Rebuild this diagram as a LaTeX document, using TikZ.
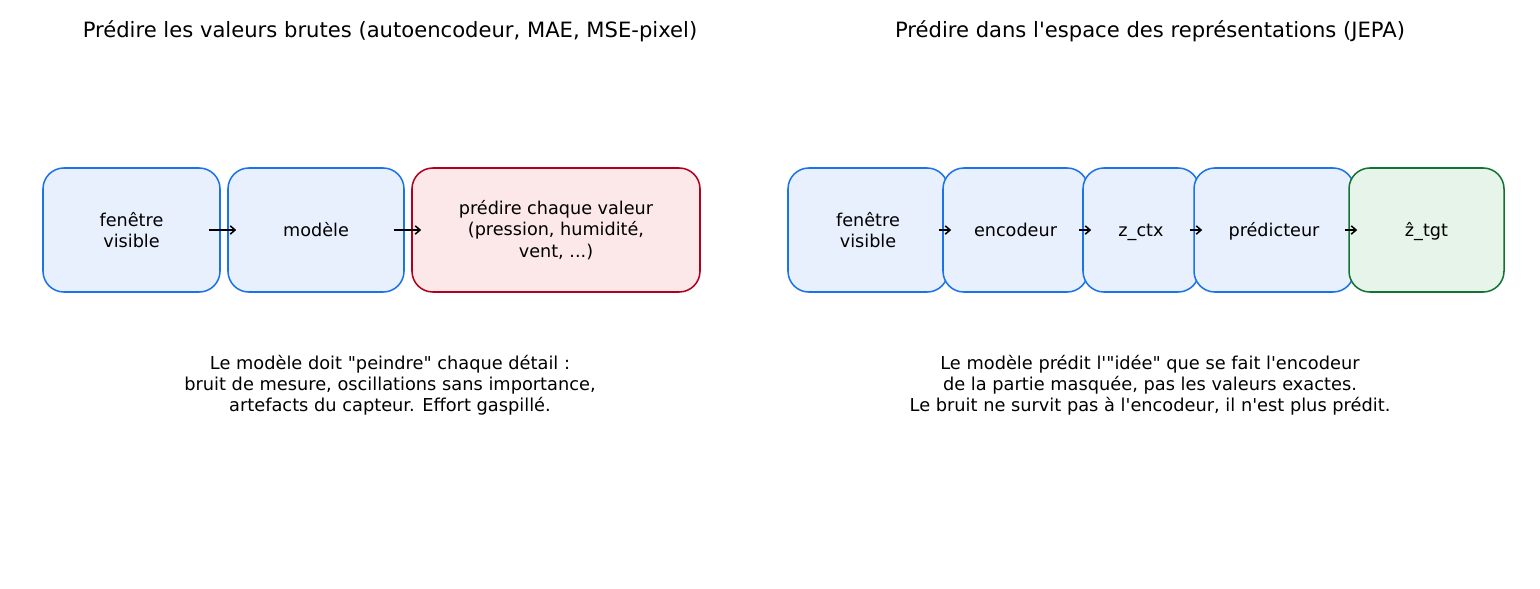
\documentclass[tikz,border=0pt]{standalone}
\usepackage{fontspec}
\setmainfont{DejaVu Sans}
\usepackage{tikz}
\usetikzlibrary{arrows.meta, calc, positioning}
\tikzset{>={Straight Barb[length=3.5pt, width=6pt]}}
\definecolor{boxblue}{HTML}{1A73E8}
\definecolor{fillblue}{HTML}{E8F0FE}
\definecolor{boxred}{HTML}{B00020}
\definecolor{fillred}{HTML}{FCE8E8}
\definecolor{boxgreen}{HTML}{137333}
\definecolor{fillgreen}{HTML}{E6F4EA}
\newdimen\pxu \pxu=0.72pt
\newcommand{\apos}{\textquotesingle}
\newcommand{\dq}{\textquotedbl}

\begin{document}
\begin{tikzpicture}[
  x=0.72pt, y=-0.72pt,
  blok/.style={rectangle, rounded corners=15pt, line width=1.1pt, minimum height=124\pxu, inner sep=0pt, align=center, font=\fontsize{12.7}{15.3}\selectfont},
  bleu/.style={blok, draw=boxblue, fill=fillblue},
  rouge/.style={blok, draw=boxred, fill=fillred},
  vert/.style={blok, draw=boxgreen, fill=fillgreen},
  ligne/.style={text height=11pt, text depth=2pt},
  fleche/.style={->, line width=1.1pt, black},
  titre/.style={font=\fontsize{15.2}{18}\selectfont},
  note/.style={align=center, font=\fontsize{12.8}{15.3}\selectfont}
]
\useasboundingbox (0,0) rectangle (1540,588);

% Titles of the two panels
\node[titre] (tg) at (390,31) {Prédire les valeurs brutes (autoencodeur, MAE, MSE-pixel)};
\node[titre] (td) at (1150,31) {Prédire dans l\apos espace des représentations (JEPA)};

% Left panel: raw value prediction
\node[bleu, minimum width=177\pxu] (fg) at (131.5,230) {fenêtre\\visible};
\node[bleu, ligne, minimum width=176\pxu] (mod) at (316,230) {modèle};
\node[rouge, minimum width=288\pxu] (pred) at (556,230) {prédire chaque valeur\\(pression, humidité,\\vent, ...)};

\draw[fleche] ($(fg.east)+(-12,0)$) -- ($(mod.west)+(9,0)$);
\draw[fleche] ($(mod.east)+(-11,0)$) -- ($(pred.west)+(10,0)$);

% Right panel: JEPA chain
\node[bleu, minimum width=160\pxu] (fd) at (868,230) {fenêtre\\visible};
\node[bleu, ligne, minimum width=145\pxu] (enc) at (1015.5,230) {encodeur};
\node[bleu, ligne, minimum width=116\pxu] (zctx) at (1141,230) {z\_ctx};
\node[bleu, ligne, minimum width=160\pxu] (prd) at (1274,230) {prédicteur};
\node[vert, ligne, minimum width=155\pxu] (zt) at (1426.5,230) {ẑ\_tgt};

\draw[fleche] ($(fd.east)+(-10,0)$) -- ($(enc.west)+(9,0)$);
\draw[fleche] ($(enc.east)+(-10,0)$) -- ($(zctx.west)+(9,0)$);
\draw[fleche] ($(zctx.east)+(-10,0)$) -- ($(prd.west)+(9,0)$);
\draw[fleche] ($(prd.east)+(-10,0)$) -- ($(zt.west)+(9,0)$);

% Explanations under each panel
\node[note] (ng) at (390,385) {Le modèle doit \dq peindre\dq{} chaque détail :\\bruit de mesure, oscillations sans importance,\\artefacts du capteur. Effort gaspillé.};
\node[note] (nd) at (1150,385) {Le modèle prédit l\apos\dq idée\dq{} que se fait l\apos encodeur\\de la partie masquée, pas les valeurs exactes.\\Le bruit ne survit pas à l\apos encodeur, il n\apos est plus prédit.};

\end{tikzpicture}
\end{document}
